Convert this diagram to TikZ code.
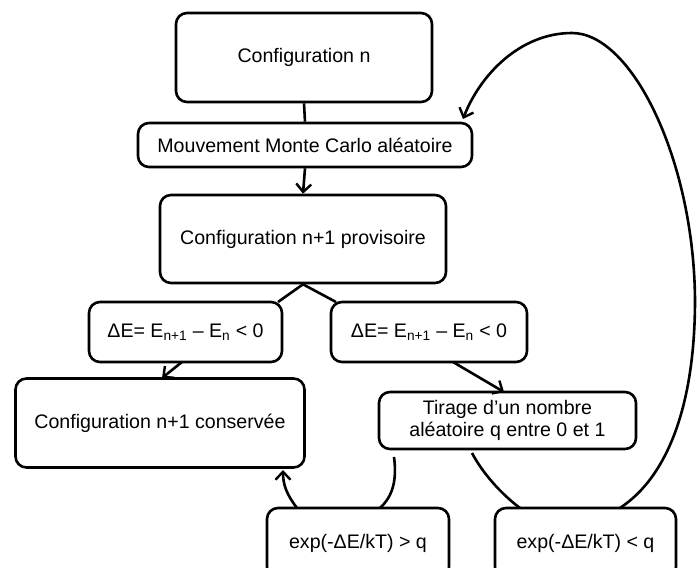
\documentclass[tikz,border=0pt]{standalone}
\usepackage{fontspec}
\setmainfont{Liberation Sans}
\usetikzlibrary{arrows.meta}
\begin{document}
\begin{tikzpicture}[x=1pt,y=-1pt,
  box/.style={draw=black,line width=2.6pt,rounded corners=11pt,align=center,inner sep=0pt,
    font=\fontsize{19.6}{22}\selectfont},
  conn/.style={draw=black,line width=2.6pt},
  arr/.style={conn,-{Straight Barb[length=8pt,width=15pt,line width=2.4pt]}}]
\useasboundingbox (0,0) rectangle (697,568);
\clip (0,0) rectangle (697,568);
\fill[white] (0,0) rectangle (697,568);
\node[box,minimum width=256pt,minimum height=89pt] (b1) at (304,57.5) {Configuration n};
\node[box,minimum width=334pt,minimum height=44pt] (b2) at (305,145) {Mouvement Monte Carlo aléatoire};
\node[box,minimum width=286pt,minimum height=88pt] (b3) at (303,239) {Configuration n+1 provisoire};
\node[box,minimum width=193pt,minimum height=60pt] (b4) at (185.5,332) {ΔE= E\textsubscript{n+1} – E\textsubscript{n} < 0};
\node[box,minimum width=196pt,minimum height=60pt] (b5) at (429,332) {ΔE= E\textsubscript{n+1} – E\textsubscript{n} < 0};
\node[box,minimum width=289pt,minimum height=89pt] (b6) at (160,423) {Configuration n+1 conservée};
\node[box,minimum width=257pt,minimum height=57pt] (b7) at (507.5,420.5) {Tirage d'un nombre\\aléatoire q entre 0 et 1};
\node[box,minimum width=182pt,minimum height=70pt] (b8) at (358,543) {exp(-ΔE/kT) > q};
\node[box,minimum width=181pt,minimum height=70pt] (b9) at (585.5,543) {exp(-ΔE/kT) < q};
% anchor coordinates
\coordinate (c7a) at (394,457);
\coordinate (c7b) at (472,453);
\coordinate (c8a) at (380,508);
\coordinate (c8b) at (297,508);
\coordinate (c6a) at (283,470);
\coordinate (c9a) at (520,508);
\coordinate (c9b) at (620,508);
\coordinate (c2a) at (463,119);
\coordinate (c4a) at (278,302);
\coordinate (c5a) at (336,302);
\coordinate (c4b) at (182,362);
\coordinate (c6b) at (162,378);
\coordinate (c5b) at (453,362);
\coordinate (c7c) at (504,392);
% connectors
\draw[conn] (b1.south) -- (b2.north);
\draw[arr] (b2.south) -- (b3.north);
\draw[conn] (c4a) -- (b3.south) -- (c5a);
\draw[arr] (c4b) -- (c6b);
\draw[arr] (c5b) -- (c7c);
\draw[conn] (c7a) .. controls (397,480) and (393,496) .. (c8a);
\draw[arr] (c8b) .. controls (287,495) and (283,485) .. (c6a);
\draw[conn] (c7b) .. controls (482,472) and (500,493) .. (c9a);
\draw[arr] (c9b) .. controls (670,475) and (695,400) .. (695,300)
  .. controls (694,160) and (632,33) .. (572,33)
  .. controls (520,33) and (480,75) .. (c2a);
\end{tikzpicture}
\end{document}
